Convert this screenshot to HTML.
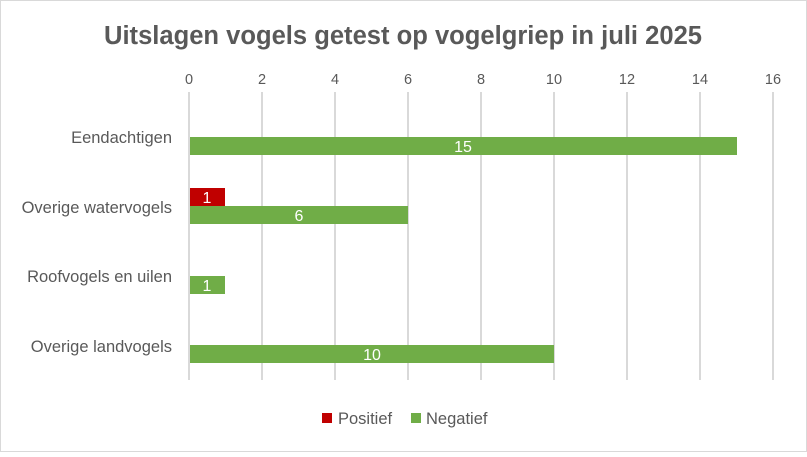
<!DOCTYPE html>
<html><head><meta charset="utf-8"><style>
body{margin:0;width:807px;height:452px;overflow:hidden;background:#fff;font-family:"Liberation Sans",sans-serif}
</style></head><body>
<svg width="807" height="452" xmlns="http://www.w3.org/2000/svg" font-family="Liberation Sans, sans-serif">
<rect x="0.5" y="0.5" width="806" height="451" fill="#fff" stroke="#d9d9d9"/>
<text x="403" y="44" text-anchor="middle" font-size="25.5" font-weight="bold" fill="#595959" textLength="598" lengthAdjust="spacingAndGlyphs">Uitslagen vogels getest op vogelgriep in juli 2025</text>
<g stroke="#d9d9d9" stroke-width="2">
<line x1="189" y1="92" x2="189" y2="380"/><line x1="262" y1="92" x2="262" y2="380"/><line x1="335" y1="92" x2="335" y2="380"/><line x1="408" y1="92" x2="408" y2="380"/><line x1="481" y1="92" x2="481" y2="380"/><line x1="554" y1="92" x2="554" y2="380"/><line x1="627" y1="92" x2="627" y2="380"/><line x1="700" y1="92" x2="700" y2="380"/><line x1="773" y1="92" x2="773" y2="380"/>
</g>
<g font-size="14.5" fill="#595959" text-anchor="middle">
<text x="189" y="84">0</text><text x="262" y="84">2</text><text x="335" y="84">4</text><text x="408" y="84">6</text><text x="481" y="84">8</text><text x="554" y="84">10</text><text x="627" y="84">12</text><text x="700" y="84">14</text><text x="773" y="84">16</text>
</g>
<g font-size="16.5" fill="#595959" text-anchor="end">
<text x="172" y="143">Eendachtigen</text>
<text x="172" y="213">Overige watervogels</text>
<text x="172" y="282">Roofvogels en uilen</text>
<text x="172" y="352">Overige landvogels</text>
</g>
<rect x="190" y="137" width="547" height="18" fill="#70ad47"/>
<rect x="190" y="188" width="35" height="18" fill="#c00000"/>
<rect x="190" y="206" width="218" height="18" fill="#70ad47"/>
<rect x="190" y="276" width="35" height="18" fill="#70ad47"/>
<rect x="190" y="345" width="364" height="18" fill="#70ad47"/>
<g font-size="16" fill="#fff" text-anchor="middle">
<text x="463" y="152">15</text>
<text x="207" y="203">1</text>
<text x="299" y="221">6</text>
<text x="207" y="291">1</text>
<text x="372" y="360">10</text>
</g>
<rect x="322" y="413" width="10" height="10" fill="#c00000"/>
<text x="338" y="424" font-size="16.5" fill="#595959">Positief</text>
<rect x="411" y="413" width="10" height="10" fill="#70ad47"/>
<text x="426" y="424" font-size="16.5" fill="#595959">Negatief</text>
</svg>
</body></html>
